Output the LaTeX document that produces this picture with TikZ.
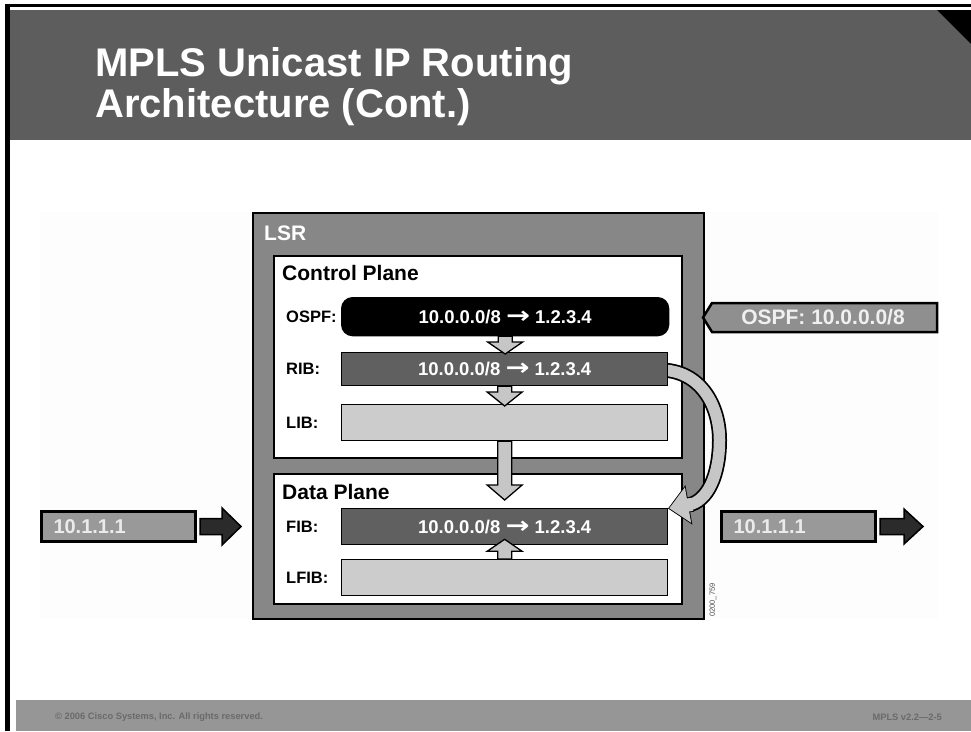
\documentclass[tikz,border=0pt]{standalone}
\usepackage{fontspec}
\usepackage{graphicx}
\setmainfont{Liberation Sans}
\newfontfamily\arrowfont{DejaVu Sans}
\usetikzlibrary{calc}

\definecolor{bandgray}{HTML}{5D5D5D}
\definecolor{lsrgray}{HTML}{878787}
\definecolor{tabledark}{HTML}{606060}
\definecolor{tablelight}{HTML}{CCCCCC}
\definecolor{flowgray}{HTML}{C6C6C6}
\definecolor{tagfill}{HTML}{8F8F8F}
\definecolor{pktfill}{HTML}{999999}
\definecolor{pktarrow}{HTML}{2B2B2B}
\definecolor{footgray}{HTML}{969696}
\definecolor{foottext}{HTML}{6A6A6A}
\definecolor{pale}{HTML}{FDFDFD}

% bold text at a given size (1pt = 1 unit of the picture)
\newcommand{\fs}[1]{\fontsize{#1}{#1}\selectfont\bfseries}
% route entry "prefix -> next hop"
\newcommand{\route}{10.0.0.0/8 \scalebox{1.55}[1.25]{\arrowfont\bfseries →} 1.2.3.4}

% wide block arrows between tables (start anchor, tip point, head length)
\newcommand{\flowdown}[3]{%
  \path[flow] let \p1=(#1), \p2=(#2) in
    (\x1-7pt,\y1) -- (\x1-7pt,\y2+#3) -- (\x1-17.5pt,\y2+#3) -- (\x1,\y2)
    -- (\x1+17.5pt,\y2+#3) -- (\x1+7pt,\y2+#3) -- (\x1+7pt,\y1) -- cycle;}
\newcommand{\flowup}[3]{%
  \path[flow] let \p1=(#1), \p2=(#2) in
    (\x1-7pt,\y1) -- (\x1-7pt,\y2-#3) -- (\x1-17.5pt,\y2-#3) -- (\x1,\y2)
    -- (\x1+17.5pt,\y2-#3) -- (\x1+7pt,\y2-#3) -- (\x1+7pt,\y1) -- cycle;}

\tikzset{
  lsrbox/.style={draw=black, line width=2, fill=lsrgray, anchor=north west,
    inner sep=0, minimum width=451, minimum height=406},
  plane/.style={draw=black, line width=2, fill=white, anchor=north west,
    inner sep=0, minimum width=408},
  tbl/.style={draw=black, line width=1.3, anchor=north west, inner sep=0,
    minimum width=326, minimum height=36, text=white, font={\fs{18.5}}},
  tbldark/.style={tbl, fill=tabledark},
  tbllight/.style={tbl, fill=tablelight},
  rowlabel/.style={anchor=west, inner sep=0, font={\fs{16.5}}},
  heading/.style={anchor=west, inner sep=0, font={\fs{21}}},
  flow/.style={draw=black, fill=flowgray, line width=1.3, line join=miter},
  pkt/.style={draw=black, line width=3, fill=pktfill, anchor=north west,
    inner xsep=12, inner ysep=0, minimum height=30, text width=130,
    align=left, text=white!92!black, font={\fs{20}}},
  pktarr/.style={draw=black, line width=1.5, fill=pktarrow, line join=miter},
  tag/.style={draw=black, line width=2.5, fill=tagfill, line join=miter},
  footnote/.style={inner sep=0, text=foottext, font={\fs{9.3}}}
}

\begin{document}
\begin{tikzpicture}[x=1pt, y=-1pt]
\useasboundingbox (0,0) rectangle (971,731);
\fill[white] (0,0) rectangle (971,731);

% slide frame, title band and footer band
\fill[black] (5,4) rectangle (971,7);
\fill[black] (5,4) rectangle (10,731);
\fill[bandgray] (10,10) rectangle (971,140);
\fill[black] (937,10) -- (971,10) -- (971,44) -- cycle;
\fill[footgray] (16,700) rectangle (971,731);
\fill[pale] (40,212) rectangle (938,619);

\node[anchor=base west, inner sep=0, text=white, font={\fs{40}}] (title1) at (95,76) {MPLS Unicast IP Routing};
\node[anchor=base west, inner sep=0, text=white, font={\fs{40}}] (title2) at (95,117) {Architecture (Cont.)};

% router with its two planes
\node[lsrbox] (lsr) at (252,212) {};
\node[heading, text=white] (lsrlabel) at (264,233) {LSR};
\node[plane, minimum height=202] (ctrl) at (273,255) {};
\node[heading] (ctrllabel) at (282,273) {Control Plane};
\node[plane, minimum height=130] (data) at (273,473) {};
\node[heading] (datalabel) at (282,492) {Data Plane};

% RIB to FIB curved transfer arrow
\coordinate (curvestart) at (660,370);
\coordinate (curveend) at (688,505);
\draw[line width=15, black] (curvestart) .. controls (700,370) and (719.5,405) .. (719.5,440)
  .. controls (719.5,475) and (707.7,501.6) .. (curveend);
\draw[black, line width=1.75, line join=miter, shift={(curveend)}]
  (2.80,-7.19) -- (-1.13,-6.50) -- (-3.10,-17.73) -- (-18.72,3.27)
  -- (3.10,17.73) -- (1.14,6.50) -- (5.08,5.81) -- cycle;
\draw[line width=11.5, flowgray] (curvestart) .. controls (700,370) and (719.5,405) .. (719.5,440)
  .. controls (719.5,475) and (707.7,501.6) .. (curveend);
\fill[flowgray, shift={(curveend)}]
  (2.80,-7.19) -- (-1.13,-6.50) -- (-3.10,-17.73) -- (-18.72,3.27)
  -- (3.10,17.73) -- (1.14,6.50) -- (5.08,5.81) -- cycle;

% tables
\node[tbl, fill=black, draw=black, rounded corners=11, minimum width=327, minimum height=38] (ospf) at (341,297) {\route};
\node[tbldark, minimum height=33] (rib) at (341,352) {\route};
\node[tbllight] (lib) at (341,404) {};
\node[tbldark] (fib) at (341,508) {\route};
\node[tbllight] (lfib) at (341,559) {};

\node[rowlabel] (ospflabel) at ($(ospf.west)+(-55,0)$) {OSPF:};
\node[rowlabel] (riblabel) at ($(rib.west)+(-55,0)$) {RIB:};
\node[rowlabel] (liblabel) at ($(lib.west)+(-55,0)$) {LIB:};
\node[rowlabel] (fiblabel) at ($(fib.west)+(-55,0)$) {FIB:};
\node[rowlabel] (lfiblabel) at ($(lfib.west)+(-55,0)$) {LFIB:};

% flows between tables
\flowdown{ospf.south}{$(rib.north)+(0,2)$}{12pt}
\flowdown{rib.south}{$(lib.north)+(0,2)$}{14pt}
\flowdown{lib.south}{$(fib.north)+(0,-8)$}{15pt}
\flowup{lfib.north}{$(fib.south)+(0,-6)$}{12pt}

% incoming routing update
\draw[tag] (703,317.5) -- (712,303) -- (937,303) -- (937,332) -- (712,332) -- cycle;
\node[inner sep=0, text=white!94!black, font={\fs{21}}] (ospfin) at (823,317.5) {OSPF: 10.0.0.0/8};

% packets entering and leaving
\node[pkt] (pktin) at (40,510) {10.1.1.1};
\draw[pktarr, shift={(pktin.east)}] (3,-8) -- (25,-8) -- (25,-18.5) -- (44,0) -- (25,18.5) -- (25,8) -- (3,8) -- cycle;
\node[pkt] (pktout) at (720,510) {10.1.1.1};
\draw[pktarr, shift={(pktout.east)}] (3,-8) -- (27,-8) -- (27,-17.5) -- (46,0) -- (27,17.5) -- (27,8) -- (3,8) -- cycle;

% figure id and footer
\node[inner sep=0, rotate=90, text=black!70, font={\fontsize{7.5}{7.5}\selectfont}] (figid) at (713,600) {0200\_759};
\node[footnote, anchor=west] (copyright) at (55,717) {© 2006 Cisco Systems, Inc. All rights reserved.};
\node[footnote, anchor=east] (course) at (942,717) {MPLS v2.2—2-5};
\end{tikzpicture}
\end{document}
